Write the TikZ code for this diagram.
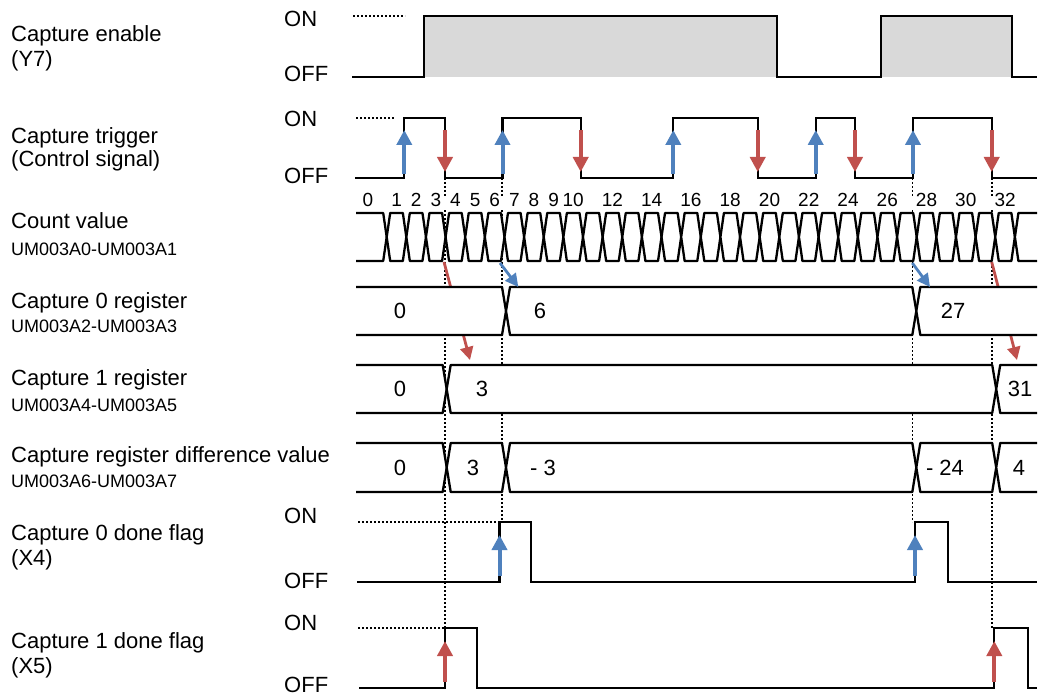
\documentclass[tikz,border=0pt]{standalone}
\usepackage{fontspec}
\setmainfont{Liberation Sans}
\usetikzlibrary{arrows.meta}
\definecolor{capblue}{HTML}{4F81BD}
\definecolor{capred}{HTML}{C0504D}
\definecolor{capgray}{HTML}{D9D9D9}

\begin{document}
\begin{tikzpicture}[x=1pt, y=-1pt,
    sig/.style={line width=2.3pt, line join=miter},
    bus/.style={line width=2.3pt, line join=round, fill=white},
    guide/.style={line width=1.7pt, dash pattern=on 1.7pt off 2.3pt},
    lbl/.style={anchor=base west, inner sep=0pt, font=\fontsize{22}{26}\selectfont},
    sublbl/.style={anchor=base west, inner sep=0pt, font=\fontsize{18}{21}\selectfont},
    lvl/.style={anchor=base west, inner sep=0pt, font=\fontsize{22}{26}\selectfont},
    val/.style={anchor=center, inner sep=0pt, font=\fontsize{22}{26}\selectfont},
    cnt/.style={anchor=base, inner sep=0pt, font=\fontsize{19}{22}\selectfont},
    uparr/.style={line width=4pt, -{Triangle[width=15pt,length=15pt]}},
    diagarr/.style={line width=2.8pt, -{Triangle[width=13pt,length=13pt]}}
]
\useasboundingbox (0,0) rectangle (1038,695);

% Signal names
\node[lbl] (enable) at (11,42) {Capture enable};
\node[lbl] (enableSub) at (11,67) {(Y7)};
\node[lbl] (trig) at (11,144) {Capture trigger};
\node[lbl] (trigSub) at (11,167) {(Control signal)};
\node[lbl] (count) at (11,229) {Count value};
\node[sublbl] (countSub) at (11,255) {UM003A0-UM003A1};
\node[lbl] (cap0) at (11,308) {Capture 0 register};
\node[sublbl] (cap0Sub) at (11,332) {UM003A2-UM003A3};
\node[lbl] (cap1) at (11,385) {Capture 1 register};
\node[sublbl] (cap1Sub) at (11,411) {UM003A4-UM003A5};
\node[lbl] (diff) at (11,462) {Capture register difference value};
\node[sublbl] (diffSub) at (11,487) {UM003A6-UM003A7};
\node[lbl] (done0) at (11,540) {Capture 0 done flag};
\node[lbl] (done0Sub) at (11,565) {(X4)};
\node[lbl] (done1) at (11,648) {Capture 1 done flag};
\node[lbl] (done1Sub) at (11,673) {(X5)};

% ON / OFF levels
\node[lvl] (enOn) at (284,27) {ON};
\node[lvl] (enOff) at (284,82) {OFF};
\node[lvl] (trOn) at (284,127) {ON};
\node[lvl] (trOff) at (284,183) {OFF};
\node[lvl] (d0On) at (284,523) {ON};
\node[lvl] (d0Off) at (284,588) {OFF};
\node[lvl] (d1On) at (284,630) {ON};
\node[lvl] (d1Off) at (284,692) {OFF};

% Capture enable - grey while ON
\fill[capgray] (424,16) rectangle (777,77);
\fill[capgray] (881,16) rectangle (1012,77);

% Dotted guides from the trigger edges
\draw[guide] (445,178) -- (445,628);
\draw[guide] (502,178) -- (502,522);
\draw[guide] (912.5,178) -- (912.5,522);
\draw[guide] (991.7,178) -- (991.7,628);
\fill[white] (360,196) rectangle (1037,210);

% Red captures (pass behind capture 0 register)
\draw[diagarr, capred] (444,262) -- (470,360);
\draw[diagarr, capred] (991.7,262) -- (1017,360);

% Count value bus
\draw[bus] (356,213) -- (383.2,213) -- (386.7,237) -- (383.2,261) -- (356,261);
\foreach \j in {0,...,31}{
  \pgfmathsetmacro{\xa}{386.7+19.63*\j}
  \pgfmathsetmacro{\xb}{\xa+19.63}
  \draw[bus] (\xa,237) -- (\xa+3.5,213) -- (\xb-3.5,213) -- (\xb,237)
    -- (\xb-3.5,261) -- (\xa+3.5,261) -- cycle;
}
\draw[bus] (1037,213) -- (1018.4,213) -- (1014.9,237) -- (1018.4,261) -- (1037,261);

\node[cnt] (c0) at (368,207) {0};
\foreach \k in {1,...,10,12,14,...,32}
  \node[cnt] (c\k) at (376.9+19.63*\k,207) {\k};

% Capture 0 register
\draw[bus] (356,287) -- (502,287) -- (506,311) -- (502,335) -- (356,335);
\draw[bus] (506,311) -- (510,287) -- (912.3,287) -- (916.3,311) -- (912.3,335) -- (510,335) -- cycle;
\draw[bus] (1037,287) -- (920.3,287) -- (916.3,311) -- (920.3,335) -- (1037,335);
\node[val] (r0a) at (400,311) {0};
\node[val] (r0b) at (540,311) {6};
\node[val] (r0c) at (953,311) {27};

% Capture 1 register
\draw[bus] (356,365) -- (442.7,365) -- (446.7,389) -- (442.7,413) -- (356,413);
\draw[bus] (446.7,389) -- (450.7,365) -- (992.2,365) -- (996.2,389) -- (992.2,413) -- (450.7,413) -- cycle;
\draw[bus] (1037,365) -- (1000.2,365) -- (996.2,389) -- (1000.2,413) -- (1037,413);
\node[val] (r1a) at (400,389) {0};
\node[val] (r1b) at (482,389) {3};
\node[val] (r1c) at (1020,389) {31};

% Capture register difference value
\draw[bus] (356,443) -- (442.7,443) -- (446.7,467.5) -- (442.7,492) -- (356,492);
\draw[bus] (446.7,467.5) -- (450.7,443) -- (502,443) -- (506,467.5) -- (502,492) -- (450.7,492) -- cycle;
\draw[bus] (506,467.5) -- (510,443) -- (912.3,443) -- (916.3,467.5) -- (912.3,492) -- (510,492) -- cycle;
\draw[bus] (916.3,467.5) -- (920.3,443) -- (992.2,443) -- (996.2,467.5) -- (992.2,492) -- (920.3,492) -- cycle;
\draw[bus] (1037,443) -- (1000.2,443) -- (996.2,467.5) -- (1000.2,492) -- (1037,492);
\node[val] (dfa) at (400,467.5) {0};
\node[val] (dfb) at (473,467.5) {3};
\node[val] (dfc) at (543,467.5) {- 3};
\node[val] (dfd) at (945,467.5) {- 24};
\node[val] (dfe) at (1019,467.5) {4};

% Capture enable
\draw[guide] (353,16) -- (405,16);
\draw[sig] (352,77) -- (424,77) -- (424,16) -- (777,16) -- (777,77) -- (881,77)
  -- (881,16) -- (1012,16) -- (1012,77) -- (1037,77);

% Capture trigger
\draw[guide] (356,118) -- (395,118);
\draw[sig] (355,178) -- (404.3,178) -- (404.3,118) -- (445,118) -- (445,178)
  -- (502.5,178) -- (502.5,118) -- (580.7,118) -- (580.7,178)
  -- (673.3,178) -- (673.3,118) -- (757.7,118) -- (757.7,178)
  -- (815.7,178) -- (815.7,118) -- (855,118) -- (855,178)
  -- (913,178) -- (913,118) -- (991.7,118) -- (991.7,178) -- (1037,178);
\foreach \x in {404.3,502.5,673.3,815.7,913}
  \draw[uparr, capblue] (\x,174) -- (\x,130);
\foreach \x in {445,580.7,757.7,855,991.7}
  \draw[uparr, capred] (\x,130) -- (\x,172);

% Blue captures into capture 0 register
\draw[diagarr, capblue] (500,263) -- (518.3,287);
\draw[diagarr, capblue] (912.3,263) -- (930,287);

% Capture 0 done flag
\draw[guide] (358,522) -- (499,522);
\draw[sig] (357,582) -- (499.5,582) -- (499.5,522) -- (531,522) -- (531,582)
  -- (915,582) -- (915,522) -- (947.7,522) -- (947.7,582) -- (1037,582);
\draw[uparr, capblue] (499.5,576) -- (499.5,535);
\draw[uparr, capblue] (915,576) -- (915,535);

% Capture 1 done flag
\draw[guide] (358,628) -- (445,628);
\draw[sig] (359,688) -- (445,688) -- (445,628) -- (477.3,628) -- (477.3,688)
  -- (994.3,688) -- (994.3,628) -- (1027.7,628) -- (1027.7,688) -- (1037,688);
\draw[uparr, capred] (445,682) -- (445,641);
\draw[uparr, capred] (994.3,682) -- (994.3,641);
\end{tikzpicture}
\end{document}
